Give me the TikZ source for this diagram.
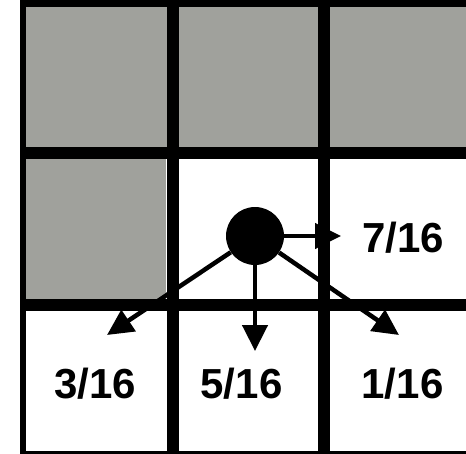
\documentclass[tikz,border=0pt]{standalone}
\usepackage{fontspec}
\setmainfont{Liberation Sans}
\usetikzlibrary{arrows.meta}
\definecolor{cellgray}{HTML}{A0A19C}
\tikzset{
  gridline/.style={line width=12pt, black},
  borderline/.style={line width=6pt, black},
  grayfill/.style={fill=cellgray, draw=black!60, line width=0.8pt},
  dot/.style={circle, fill=black, minimum size=58pt, inner sep=0pt},
  flow/.style={line width=4.5pt, -{Triangle[length=26pt,width=25pt]}},
  frac/.style={font=\fontsize{42}{50}\selectfont\bfseries, inner sep=0pt}
}
\begin{document}
\begin{tikzpicture}[x=1pt,y=-1pt]
\useasboundingbox (0,0) rectangle (466,453);
\clip (0,0) rectangle (466,453);
% gray cells
\fill[cellgray] (26,7) rectangle (466,147);
\fill[cellgray] (26,159) rectangle (166,299);
% grid
\draw[borderline] (23,0) -- (23,453);
\draw[gridline] (172.5,0) -- (172.5,453);
\draw[gridline] (323.5,0) -- (323.5,453);
\draw[gridline] (20,1) -- (466,1);
\draw[gridline] (20,153) -- (466,153);
\draw[gridline] (20,305) -- (466,305);
\draw[gridline] (20,457) -- (466,457);
% pixel and arrows
\node[dot] (p) at (255,236) {};
\coordinate (tr) at (341,236);
\coordinate (tbl) at (107,335);
\coordinate (tb) at (255,351);
\coordinate (tbr) at (399,335);
\draw[flow] (p) -- (tr);
\draw[flow] (p) -- (tbl);
\draw[flow] (p) -- (tb);
\draw[flow] (p) -- (tbr);
% labels
\node[frac] (l7) at (403,238) {7/16};
\node[frac] (l3) at (95,384) {3/16};
\node[frac] (l5) at (241.5,384) {5/16};
\node[frac] (l1) at (402.5,384) {1/16};
\end{tikzpicture}
\end{document}
